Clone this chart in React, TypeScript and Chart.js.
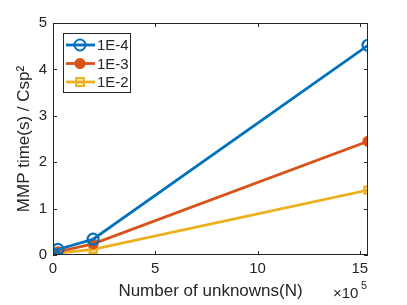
import React, { useEffect, useRef } from "react";
import { Chart, registerables } from "chart.js";

Chart.register(...registerables);

const unknowns = [1500, 24000, 196000, 1540000];
const tol4 = [0.02, 0.12, 0.34, 4.52];
const tol3 = [0.01, 0.07, 0.24, 2.45];
const tol2 = [0.005, 0.04, 0.12, 1.4];
const seriesNames = ["1E-4", "1E-3", "1E-2"];
const colors = ["#0072BD", "#D95319", "#EDB120"];
const yTicks = [0, 1, 2, 3, 4, 5];
const xTicks = [0, 500000, 1000000, 1500000];

const AXIS = "#262626";
const FONT = "'Liberation Sans', Arial, sans-serif";

const boxPlugin = {
  id: "matlabBox",
  afterDraw(chart: any) {
    const { ctx, chartArea: a, scales } = chart;
    const xs = scales.x, ys = scales.y;
    ctx.save();
    ctx.strokeStyle = AXIS;
    ctx.lineWidth = 1;
    ctx.strokeRect(a.left + 0.5, a.top + 0.5, a.right - a.left - 1, a.bottom - a.top - 1);
    const tl = 4;
    ctx.beginPath();
    xs.ticks.forEach((t: any) => {
      const px = Math.round(xs.getPixelForValue(t.value)) + 0.5;
      ctx.moveTo(px, a.bottom); ctx.lineTo(px, a.bottom - tl);
      ctx.moveTo(px, a.top); ctx.lineTo(px, a.top + tl);
    });
    ys.ticks.forEach((t: any) => {
      const py = Math.round(ys.getPixelForValue(t.value)) + 0.5;
      ctx.moveTo(a.left, py); ctx.lineTo(a.left + tl, py);
      ctx.moveTo(a.right, py); ctx.lineTo(a.right - tl, py);
    });
    ctx.stroke();
    // exponent label
    ctx.fillStyle = AXIS;
    ctx.textBaseline = "alphabetic";
    ctx.textAlign = "left";
    ctx.font = `15px ${FONT}`;
    ctx.fillText("\u00d710", 333, 298);
    ctx.font = `11px ${FONT}`;
    ctx.fillText("5", 361, 289);
    // legend
    const lx = 63, ly = 33, lw = 67, lh = 59;
    ctx.fillStyle = "#ffffff";
    ctx.fillRect(lx, ly, lw, lh);
    ctx.strokeStyle = AXIS;
    ctx.lineWidth = 1;
    ctx.strokeRect(lx + 0.5, ly + 0.5, lw, lh);
    chart.data.datasets.forEach((ds: any, i: number) => {
      const y = ly + 12 + i * 18.5;
      ctx.strokeStyle = ds.borderColor;
      ctx.lineWidth = 2.8;
      ctx.beginPath();
      ctx.moveTo(lx + 3, y); ctx.lineTo(lx + 32, y);
      ctx.stroke();
      const cx = lx + 17;
      ctx.lineWidth = 2;
      if (ds.pointStyle === "rect") {
        ctx.fillStyle = ds.pointBackgroundColor;
        ctx.fillRect(cx - 4, y - 4, 8, 8);
        ctx.strokeRect(cx - 4, y - 4, 8, 8);
      } else {
        ctx.beginPath();
        ctx.arc(cx, y, ds.pointRadius, 0, Math.PI * 2);
        ctx.fillStyle = ds.pointBackgroundColor;
        ctx.fill();
        ctx.stroke();
      }
      ctx.fillStyle = AXIS;
      ctx.font = `15px ${FONT}`;
      ctx.textBaseline = "middle";
      ctx.fillText(ds.label, lx + 34, y + 1);
    });
    ctx.restore();
  },
};

export default function App() {
  const ref = useRef<HTMLCanvasElement>(null);
  useEffect(() => {
    document.body.style.margin = "0";
    const mk = (label: string, vals: number[], color: string, style: string, bg: string, r: number) => ({
      label,
      data: unknowns.map((n, i) => ({ x: n, y: vals[i] })),
      borderColor: color,
      backgroundColor: color,
      pointBackgroundColor: bg,
      pointBorderColor: color,
      pointStyle: style,
      pointRadius: r,
      pointBorderWidth: 2.2,
      borderWidth: 2.8,
      tension: 0,
    });
    const chart = new Chart(ref.current!, {
      type: "line",
      data: {
        datasets: [
          mk(seriesNames[0], tol4, colors[0], "circle", "rgba(255,255,255,0)", 5.5),
          mk(seriesNames[1], tol3, colors[1], "circle", colors[1], 4.5),
          mk(seriesNames[2], tol2, colors[2], "rect", "rgba(237,177,32,0.25)", 5),
        ],
      },
      options: {
        animation: false,
        responsive: false,
        layout: { padding: { left: 0, right: 39, top: 23, bottom: 0 } },
        plugins: { legend: { display: false }, tooltip: { enabled: false } },
        scales: {
          x: {
            type: "linear",
            min: 0,
            max: unknowns[unknowns.length - 1],
            grid: { display: false, drawTicks: false },
            border: { display: false },
            afterBuildTicks: (s: any) => { s.ticks = xTicks.map((v) => ({ value: v })); },
            afterFit: (s: any) => { s.height = 50; },
            ticks: {
              color: AXIS,
              font: { family: FONT, size: 15 },
              padding: 5,
              maxRotation: 0,
              callback: (v: any) => String(Number(v) / 100000),
            },
            title: {
              display: true,
              text: "Number of unknowns(N)",
              color: AXIS,
              font: { family: FONT, size: 17 },
              padding: { top: 0, bottom: 3 },
            },
          },
          y: {
            type: "linear",
            min: 0,
            max: 5,
            grid: { display: false, drawTicks: false },
            border: { display: false },
            afterBuildTicks: (s: any) => { s.ticks = yTicks.map((v) => ({ value: v })); },
            afterFit: (s: any) => { s.width = 53; },
            ticks: {
              color: AXIS,
              font: { family: FONT, size: 15 },
              padding: 6,
            },
            title: {
              display: true,
              text: "MMP time(s) / Csp\u00b2",
              color: AXIS,
              font: { family: FONT, size: 17 },
              padding: { top: 14, bottom: 0 },
            },
          },
        },
      },
      plugins: [boxPlugin],
    });
    return () => chart.destroy();
  }, []);
  return (
    <div style={{ position: "absolute", left: 0, top: 0, width: 407, height: 305, background: "#fff" }}>
      <canvas ref={ref} width={407} height={305} />
    </div>
  );
}
